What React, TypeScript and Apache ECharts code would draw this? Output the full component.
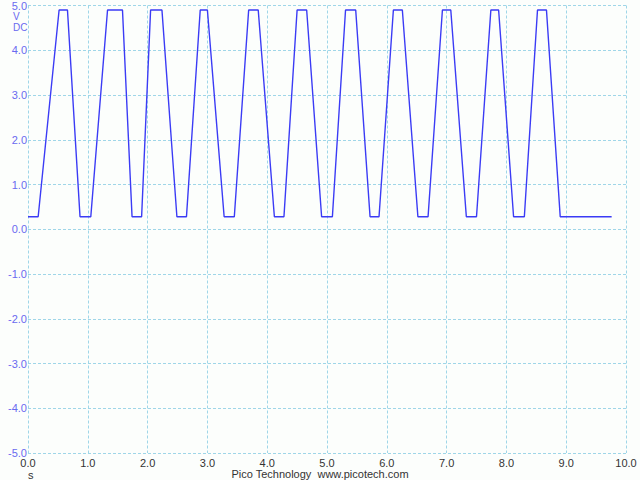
import React, { useEffect, useRef } from "react";
import * as echarts from "echarts";

// Waveform vertices (time in s, voltage in V)
const times = [
  0.0, 0.17, 0.52, 0.66, 0.87, 1.05, 1.33, 1.58, 1.74, 1.9, 2.05, 2.24, 2.49, 2.65,
  2.88, 3.0, 3.28, 3.45, 3.69, 3.85, 4.12, 4.28, 4.5, 4.66, 4.91, 5.09, 5.31, 5.48,
  5.72, 5.87, 6.11, 6.26, 6.52, 6.69, 6.93, 7.07, 7.33, 7.5, 7.74, 7.87, 8.12, 8.3,
  8.52, 8.67, 8.9, 9.76,
];
const volts = [
  0.28, 0.28, 4.9, 4.9, 0.28, 0.28, 4.9, 4.9, 0.28, 0.28, 4.9, 4.9, 0.28, 0.28,
  4.9, 4.9, 0.28, 0.28, 4.9, 4.9, 0.28, 0.28, 4.9, 4.9, 0.28, 0.28, 4.9, 4.9,
  0.28, 0.28, 4.9, 4.9, 0.28, 0.28, 4.9, 4.9, 0.28, 0.28, 4.9, 4.9, 0.28, 0.28,
  4.9, 4.9, 0.28, 0.28,
];
const xTicks = { min: 0, max: 10, interval: 1 };
const yTicks = { min: -5, max: 5, interval: 1 };
const unitLabels = ["V", "DC"];
const xUnit = "s";
const footer = "Pico Technology  www.picotech.com";

export default function App() {
  const ref = useRef<HTMLDivElement>(null);
  useEffect(() => {
    document.body.style.margin = "0";
    const chart = echarts.init(ref.current!, undefined, { renderer: "svg" });
    const font = "Liberation Sans, Arial, sans-serif";
    const gridLine = { show: true, lineStyle: { color: "#9fd6e8", width: 1, type: [3, 2] as any } };
    chart.setOption({
      animation: false,
      backgroundColor: "#fcfefc",
      grid: { left: 28, right: 14, top: 5, bottom: 27, containLabel: false },
      xAxis: {
        type: "value",
        min: xTicks.min,
        max: xTicks.max,
        interval: xTicks.interval,
        axisLine: { show: false },
        axisTick: { show: false },
        splitLine: gridLine,
        axisLabel: {
          color: "#333333",
          fontFamily: font,
          fontSize: 11,
          lineHeight: 11,
          margin: 4,
          formatter: (v: number) => v.toFixed(1),
        },
      },
      yAxis: {
        type: "value",
        min: yTicks.min,
        max: yTicks.max,
        interval: yTicks.interval,
        axisLine: { show: false },
        axisTick: { show: false },
        splitLine: gridLine,
        axisLabel: {
          color: "#6a6af0",
          fontFamily: font,
          fontSize: 11,
          lineHeight: 9,
          margin: 1,
          formatter: (v: number) => v.toFixed(1),
        },
      },
      series: [
        {
          type: "line",
          data: times.map((t, i) => [t, volts[i]]),
          showSymbol: false,
          lineStyle: { color: "#3b3bf5", width: 1.4 },
        },
      ],
      graphic: [
        { type: "text", left: 13, top: 11, style: { text: unitLabels[0], fill: "#6a6af0", font: `10px ${font}`, lineHeight: 10 } },
        { type: "text", left: 13, top: 22, style: { text: unitLabels[1], fill: "#6a6af0", font: `10px ${font}`, lineHeight: 10 } },
        { type: "text", left: 28, top: 469, style: { text: xUnit, fill: "#333333", font: `11px ${font}`, lineHeight: 10 } },
        { type: "text", x: 320, y: 469, style: { text: footer, fill: "#333333", font: `11px ${font}`, textAlign: "center", lineHeight: 10 } },
      ],
    });
    return () => chart.dispose();
  }, []);
  return <div ref={ref} style={{ position: "absolute", left: 0, top: 0, width: 640, height: 480 }} />;
}
